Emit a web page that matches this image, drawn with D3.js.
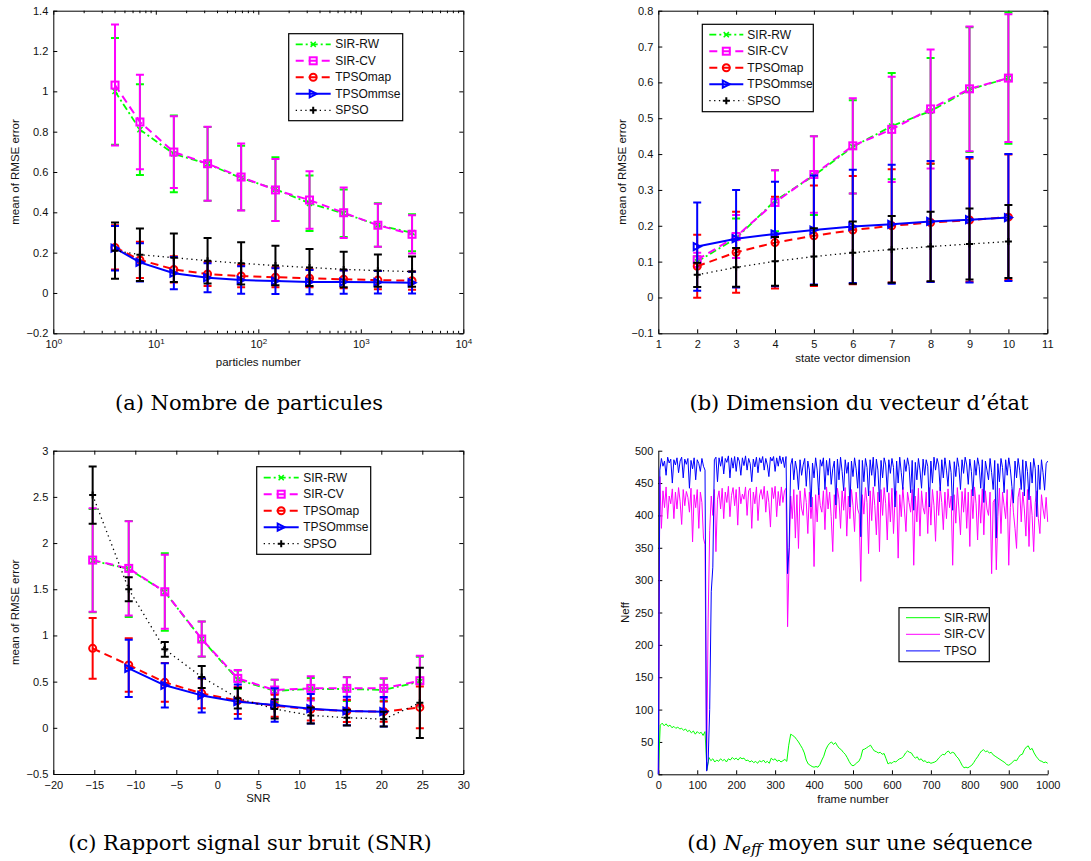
<!DOCTYPE html>
<html><head><meta charset="utf-8">
<script src="https://cdn.jsdelivr.net/npm/d3@7"></script>
<style>
body{margin:0;background:#fff;}
svg{display:block;}
</style></head><body>
<svg id="chart" width="1091" height="861"></svg>
<script>
// ---------------- DATA ----------------
const seriesNames = ["SIR-RW", "SIR-CV", "TPSOmap", "TPSOmmse", "SPSO"];

// (a) particles number
const aParticles = [4, 7, 15, 32, 68, 147, 316, 681, 1468, 3162];
const aSirRW = [1.00, 0.81, 0.69, 0.64, 0.57, 0.515, 0.445, 0.395, 0.337, 0.299];
const aSirRWErr = [0.265, 0.225, 0.19, 0.183, 0.16, 0.158, 0.138, 0.118, 0.108, 0.092];
const aSirCV = [1.031, 0.848, 0.699, 0.641, 0.575, 0.511, 0.461, 0.398, 0.336, 0.291];
const aSirCVErr = [0.30, 0.234, 0.178, 0.184, 0.166, 0.154, 0.143, 0.125, 0.107, 0.095];
const aTpsoMap = [0.226, 0.164, 0.117, 0.094, 0.084, 0.078, 0.073, 0.068, 0.064, 0.061];
const aTpsoMapErr = [0.11, 0.09, 0.065, 0.06, 0.055, 0.05, 0.045, 0.045, 0.045, 0.045];
const aTpsoMmse = [0.222, 0.152, 0.098, 0.076, 0.064, 0.059, 0.054, 0.054, 0.053, 0.051];
const aTpsoMmseErr = [0.11, 0.095, 0.08, 0.072, 0.068, 0.064, 0.06, 0.058, 0.056, 0.054];
const aSpso = [0.21, 0.19, 0.175, 0.16, 0.147, 0.136, 0.126, 0.117, 0.111, 0.106];
const aSpsoErr = [0.14, 0.13, 0.12, 0.113, 0.105, 0.098, 0.092, 0.088, 0.08, 0.075];
const aYTicks = [-0.2, 0, 0.2, 0.4, 0.6, 0.8, 1, 1.2, 1.4];
const aXTicks = [1, 10, 100, 1000, 10000];

// (b) state vector dimension
const bDim = [2, 3, 4, 5, 6, 7, 8, 9, 10];
const bSirRW = [0.10, 0.165, 0.27, 0.34, 0.42, 0.478, 0.52, 0.58, 0.612];
const bSirRWErr = [0.015, 0.055, 0.085, 0.11, 0.13, 0.148, 0.148, 0.174, 0.183];
const bSirCV = [0.105, 0.17, 0.265, 0.343, 0.423, 0.469, 0.526, 0.582, 0.612];
const bSirCVErr = [0.02, 0.06, 0.09, 0.107, 0.133, 0.147, 0.166, 0.174, 0.178];
const bTpsoMap = [0.087, 0.126, 0.153, 0.172, 0.188, 0.2, 0.209, 0.216, 0.224];
const bTpsoMapErr = [0.088, 0.113, 0.128, 0.14, 0.151, 0.158, 0.165, 0.172, 0.175];
const bTpsoMmse = [0.142, 0.164, 0.177, 0.188, 0.198, 0.204, 0.212, 0.217, 0.223];
const bTpsoMmseErr = [0.123, 0.136, 0.146, 0.152, 0.158, 0.166, 0.169, 0.175, 0.177];
const bSpso = [0.063, 0.084, 0.101, 0.114, 0.125, 0.134, 0.142, 0.149, 0.156];
const bSpsoErr = [0.034, 0.054, 0.068, 0.079, 0.087, 0.093, 0.097, 0.099, 0.102];
const bYTicks = [-0.1, 0, 0.1, 0.2, 0.3, 0.4, 0.5, 0.6, 0.7, 0.8];
const bXTicks = [1, 2, 3, 4, 5, 6, 7, 8, 9, 10, 11];

// (c) SNR
const cSnr = [-15.2, -10.8, -6.4, -1.9, 2.5, 7, 11.4, 15.8, 20.3, 24.7];
const cSirRW = [1.81, 1.72, 1.47, 0.96, 0.52, 0.40, 0.42, 0.42, 0.41, 0.50];
const cSirRWErr = [0.56, 0.52, 0.42, 0.19, 0.10, 0.12, 0.12, 0.13, 0.12, 0.27];
const cSirCV = [1.816, 1.726, 1.473, 0.961, 0.535, 0.409, 0.427, 0.427, 0.427, 0.51];
const cSirCVErr = [0.56, 0.51, 0.40, 0.19, 0.09, 0.11, 0.13, 0.12, 0.11, 0.27];
const cTpsoMap = [0.86, 0.68, 0.492, 0.373, 0.294, 0.239, 0.2, 0.182, 0.175, 0.221];
const cTpsoMapErr = [0.33, 0.29, 0.21, 0.16, 0.145, 0.12, 0.12, 0.12, 0.11, 0.225];
const cTpsoMmse = [null, 0.643, 0.46, 0.351, 0.283, 0.247, 0.207, 0.182, 0.174, null];
const cTpsoMmseErr = [null, 0.31, 0.24, 0.185, 0.185, 0.18, 0.16, 0.155, 0.16, null];
const cSpso = [2.52, 1.5, 0.85, 0.55, 0.32, 0.204, 0.134, 0.11, 0.094, 0.27];
const cSpsoErr = [0.31, 0.13, 0.08, 0.12, 0.11, 0.104, 0.087, 0.085, 0.081, 0.38];
const cYTicks = [-0.5, 0, 0.5, 1, 1.5, 2, 2.5, 3];
const cXTicks = [-20, -15, -10, -5, 0, 5, 10, 15, 20, 25, 30];

// (d) Neff over a sequence
const dSirRWStep = 5;   // one value every 5 frames
const dSirRW = [0,76,79,75,78,74,76,72,74,71,73,70,71,68,70,66,68,64,67,62,66,63,65,60,66,6,26,21,24,19,22,20,24,21,23,19,24,22,26,23,25,22,26,24,25,21,22,19,21,18,20,17,21,19,22,18,20,17,25,22,24,20,22,19,21,23,20,45,62,60,58,54,50,45,40,33,22,16,14,12,11,12,11,15,22,28,38,44,48,50,46,49,44,40,38,34,31,26,20,15,13,15,18,20,26,38,39,41,43,45,40,36,35,33,34,31,32,24,16,18,17,20,19,22,24,25,28,33,36,34,33,28,25,27,22,24,20,21,18,19,17,18,19,21,25,28,31,30,34,36,32,34,33,28,25,20,14,10,11,10,12,14,18,23,27,32,36,38,35,36,33,34,30,28,26,24,22,20,18,15,14,16,19,22,21,26,30,31,38,42,44,38,40,33,28,24,21,20,18,19,17];
const dStep = 4;        // one value every 4 frames
const dSirCV = [
  0,460,380,438,412,444,395,430,418,441,
  395,436,410,443,422,386,440,415,437,428,
  405,442,359,432,412,440,380,436,420,365,
  355,5,240,377,430,400,440,344,425,438,
  410,442,395,436,420,445,398,431,443,415,
  440,385,444,418,433,425,444,400,438,442,
  380,436,418,444,392,430,440,425,445,405,
  438,420,382,443,426,445,398,437,415,444,
  420,438,442,228,334,430,395,440,365,432,
  349,438,410,400,442,420,372,436,395,428,
  321,432,390,442,415,405,438,378,444,410,
  436,398,344,432,395,442,425,380,438,408,
  443,368,430,395,440,415,375,436,410,402,
  298,432,402,443,420,341,438,392,444,415,
  370,436,344,440,400,443,418,362,435,390,
  442,372,425,438,334,432,398,444,410,375,
  436,420,405,440,323,430,390,442,368,438,
  412,402,436,372,443,385,440,415,360,438,
  400,444,420,378,436,395,441,412,430,323,
  432,388,443,410,370,437,405,442,380,436,
  352,440,395,444,418,362,432,388,441,370,
  438,410,400,436,310,420,425,316,398,442,
  372,436,415,395,440,323,412,440,405,380,
  349,428,442,390,436,410,368,440,352,430,
  400,344,420,438,395,372,432,410,395,428,
  390];
const dTpso = [
  0,470,488,476,484,462,490,481,487,450,
  486,478,489,466,484,490,458,487,479,488,
  442,485,472,489,455,486,480,468,488,476,
  470,5,20,100,282,320,486,490,452,489,
  476,491,464,488,482,492,458,489,473,491,
  468,490,484,462,489,477,492,470,488,480,
  452,487,475,490,466,489,481,491,470,488,
  478,460,490,484,491,468,489,476,492,480,
  490,474,491,310,350,478,488,455,484,470,
  440,486,462,478,488,445,484,470,413,481,
  458,489,470,432,486,476,489,440,485,462,
  488,448,472,484,416,487,455,490,468,438,
  486,465,482,413,484,460,489,472,442,486,
  367,485,452,488,474,430,486,462,490,445,
  487,470,421,485,458,489,478,436,486,465,
  488,474,413,484,450,490,466,440,486,468,
  489,476,435,485,408,482,455,488,470,442,
  487,462,486,476,413,484,450,490,470,488,
  478,438,486,458,489,470,445,485,466,408,
  483,460,489,474,440,486,465,490,478,448,
  487,468,430,485,462,489,476,442,486,420,
  484,470,455,488,466,440,485,365,480,452,
  488,474,435,486,462,489,472,445,419,484,
  458,488,470,440,486,430,484,468,424,482,
  450,488,472,398,478,440,486,466,439,480,
  484];
const dYTicks = [0, 50, 100, 150, 200, 250, 300, 350, 400, 450, 500];
const dXTicks = [0, 100, 200, 300, 400, 500, 600, 700, 800, 900, 1000];

// ---------------- RENDER ----------------
const SANS = '"Liberation Sans", Arial, Helvetica, sans-serif';
const SERIF = '"DejaVu Serif", "Liberation Serif", serif';
const svg = d3.select("#chart");
svg.append("rect").attr("width", 1091).attr("height", 861).attr("fill", "#fff");

const styleOf = {
  "SIR-RW":   {color: "#00ff00", dash: "7,3,2,3", width: 1.8, marker: "x"},
  "SIR-CV":   {color: "#ff00ff", dash: "8,5", width: 2, marker: "square"},
  "TPSOmap":  {color: "#ff0000", dash: "8,5", width: 2, marker: "circle"},
  "TPSOmmse": {color: "#0000ff", dash: null, width: 2, marker: "tri"},
  "SPSO":     {color: "#000000", dash: "1.3,3.5", width: 1.3, marker: "plus"}
};

function drawMarker(g, type, cx, cy, color) {
  const s = 3.5;
  if (type === "x") {
    const k = 2.6;
    g.append("path").attr("d", `M${cx-k},${cy-k}L${cx+k},${cy+k}M${cx-k},${cy+k}L${cx+k},${cy-k}`)
      .attr("stroke", color).attr("stroke-width", 1.5).attr("fill", "none");
  } else if (type === "square") {
    g.append("rect").attr("x", cx - s).attr("y", cy - s).attr("width", 2 * s).attr("height", 2 * s)
      .attr("stroke", color).attr("stroke-width", 2).attr("fill", "none");
  } else if (type === "circle") {
    g.append("circle").attr("cx", cx).attr("cy", cy).attr("r", s)
      .attr("stroke", color).attr("stroke-width", 2).attr("fill", "none");
  } else if (type === "tri") {
    g.append("path").attr("d", `M${cx-s},${cy-s}L${cx+s},${cy}L${cx-s},${cy+s}Z`)
      .attr("stroke", color).attr("stroke-width", 2).attr("fill", "none");
  } else if (type === "plus") {
    g.append("path").attr("d", `M${cx-s},${cy}L${cx+s},${cy}M${cx},${cy-s}L${cx},${cy+s}`)
      .attr("stroke", color).attr("stroke-width", 2).attr("fill", "none");
  }
}

function styleAxis(sel) {
  sel.select(".domain").attr("stroke", "#000").attr("stroke-width", 1);
  sel.selectAll(".tick line").attr("stroke", "#000").attr("stroke-width", 1);
  sel.selectAll(".tick text").attr("font-family", SANS).attr("font-size", "11px").attr("fill", "#111");
}

const minusFmt = d => (d < 0 ? "\u2212" + String(Math.abs(d)) : String(d));

function drawAxes(g, x, y, box, o) {
  const [x0, y0, x1, y1] = box;
  const bottom = d3.axisBottom(x).tickValues(o.xTicks).tickSize(-4).tickSizeOuter(0).tickPadding(7).tickFormat(o.xFmt || minusFmt);
  const left = d3.axisLeft(y).tickValues(o.yTicks).tickSize(-4).tickSizeOuter(0).tickPadding(5).tickFormat(minusFmt);
  const gb = g.append("g").attr("transform", `translate(0,${y1})`).call(bottom); styleAxis(gb);
  const gl = g.append("g").attr("transform", `translate(${x0},0)`).call(left); styleAxis(gl);
  if (o.frame) {
    const gt = g.append("g").attr("transform", `translate(0,${y0})`)
      .call(d3.axisTop(x).tickValues(o.xTicks).tickSize(-4).tickSizeOuter(0).tickFormat(""));
    styleAxis(gt);
    const gr = g.append("g").attr("transform", `translate(${x1},0)`)
      .call(d3.axisRight(y).tickValues(o.yTicks).tickSize(-4).tickSizeOuter(0).tickFormat(""));
    styleAxis(gr);
  }
  if (o.minor) {
    o.minor.forEach(v => {
      g.append("line").attr("x1", x(v)).attr("x2", x(v)).attr("y1", y1).attr("y2", y1 - 2.5).attr("stroke", "#000");
      g.append("line").attr("x1", x(v)).attr("x2", x(v)).attr("y1", y0).attr("y2", y0 + 2.5).attr("stroke", "#000");
    });
  }
  return gb;
}

function axisLabels(g, box, xlab, xlabY, ylab, ylabX) {
  const [x0, y0, x1, y1] = box;
  g.append("text").attr("x", (x0 + x1) / 2).attr("y", xlabY).attr("text-anchor", "middle")
    .attr("dominant-baseline", "central").attr("font-family", SANS).attr("font-size", "11.5px").attr("fill", "#111").text(xlab);
  g.append("text").attr("transform", `translate(${ylabX},${(y0 + y1) / 2}) rotate(-90)`).attr("text-anchor", "middle")
    .attr("dominant-baseline", "central").attr("font-family", SANS).attr("font-size", "11.5px").attr("fill", "#111").text(ylab);
}

function drawLegend(g, lg, names, simple) {
  g.append("rect").attr("x", lg.x).attr("y", lg.y).attr("width", lg.w).attr("height", lg.h)
    .attr("fill", "#fff").attr("stroke", "#000").attr("stroke-width", 1.2);
  names.forEach((n, i) => {
    const st = simple ? simple[i] : styleOf[n];
    const ry = lg.y + lg.first + i * lg.step;
    g.append("line").attr("x1", lg.x + lg.lx0).attr("x2", lg.x + lg.lx1).attr("y1", ry).attr("y2", ry)
      .attr("stroke", st.color).attr("stroke-width", st.width)
      .attr("stroke-dasharray", st.dash || null);
    if (!simple) drawMarker(g, st.marker, lg.x + (lg.lx0 + lg.lx1) / 2, ry, st.color);
    g.append("text").attr("x", lg.x + lg.tx).attr("y", ry).attr("dominant-baseline", "central")
      .attr("font-family", SANS).attr("font-size", "12px").attr("fill", "#111").text(n);
  });
}

function errorPanel(cfg) {
  const g = svg.append("g");
  const [x0, y0, x1, y1] = cfg.box;
  const x = cfg.xScale.range([x0, x1]);
  const y = d3.scaleLinear().domain(cfg.yDomain).range([y1, y0]);
  const gb = drawAxes(g, x, y, cfg.box, Object.assign({frame: true}, cfg));
  if (cfg.logLabels) {
    gb.selectAll(".tick text").text(null).each(function (d) {
      const t = d3.select(this);
      t.append("tspan").text("10");
      t.append("tspan").attr("dy", "-0.55em").attr("font-size", "8px").text(Math.round(Math.log10(d)));
    });
  }
  axisLabels(g, cfg.box, cfg.xlabel, cfg.xlabY, "mean of RMSE error", cfg.ylabX);
  cfg.series.forEach(s => {
    const st = styleOf[s.name];
    const pts = cfg.xs.map((xv, i) => ({x: xv, v: s.values[i], e: s.errors[i]})).filter(p => p.v != null);
    const sg = g.append("g");
    pts.forEach(p => {
      const px = x(p.x), ya = y(p.v - p.e), yb = y(p.v + p.e), c = 4;
      sg.append("path").attr("d", `M${px},${ya}L${px},${yb}M${px - c},${ya}L${px + c},${ya}M${px - c},${yb}L${px + c},${yb}`)
        .attr("stroke", st.color).attr("stroke-width", 2).attr("fill", "none");
    });
    sg.append("path").datum(pts)
      .attr("d", d3.line().x(p => x(p.x)).y(p => y(p.v)))
      .attr("fill", "none").attr("stroke", st.color).attr("stroke-width", st.width)
      .attr("stroke-dasharray", st.dash || null).attr("stroke-linejoin", "round");
    pts.forEach(p => drawMarker(sg, st.marker, x(p.x), y(p.v), st.color));
  });
  drawLegend(g, cfg.legend, seriesNames);
}

// minor ticks for log axis
const aMinor = [];
[1, 10, 100, 1000].forEach(dec => { for (let m = 2; m <= 9; m++) aMinor.push(m * dec); });

errorPanel({
  box: [53.3, 10.7, 463.3, 333.3],
  xScale: d3.scaleLog().domain([1, 10000]),
  yDomain: [-0.2, 1.4], xTicks: aXTicks, yTicks: aYTicks,
  minor: aMinor, logLabels: true, xFmt: d => String(d),
  xs: aParticles,
  series: [
    {name: "SIR-RW", values: aSirRW, errors: aSirRWErr},
    {name: "SIR-CV", values: aSirCV, errors: aSirCVErr},
    {name: "TPSOmap", values: aTpsoMap, errors: aTpsoMapErr},
    {name: "TPSOmmse", values: aTpsoMmse, errors: aTpsoMmseErr},
    {name: "SPSO", values: aSpso, errors: aSpsoErr}
  ],
  xlabel: "particles number", xlabY: 361.5, ylabX: 15,
  legend: {x: 288.7, y: 33.7, w: 114, h: 87, first: 10.6, step: 16.5, lx0: 7, lx1: 42, tx: 46.5}
});

errorPanel({
  xScale: d3.scaleLinear().domain([1, 11]),
  yDomain: [-0.1, 0.8], xTicks: bXTicks, yTicks: bYTicks, box: [658.3, 10.7, 1047.3, 333.3],
  xs: bDim,
  series: [
    {name: "SIR-RW", values: bSirRW, errors: bSirRWErr},
    {name: "SIR-CV", values: bSirCV, errors: bSirCVErr},
    {name: "TPSOmap", values: bTpsoMap, errors: bTpsoMapErr},
    {name: "TPSOmmse", values: bTpsoMmse, errors: bTpsoMmseErr},
    {name: "SPSO", values: bSpso, errors: bSpsoErr}
  ],
  xlabel: "state vector dimension", xlabY: 358.3, ylabX: 621.7,
  legend: {x: 702.3, y: 24.3, w: 111, h: 87.4, first: 10.4, step: 16.5, lx0: 7, lx1: 41, tx: 45}
});

errorPanel({
  xScale: d3.scaleLinear().domain([-20, 30]),
  yDomain: [-0.5, 3], xTicks: cXTicks, yTicks: cYTicks, box: [53.3, 450.7, 463.3, 774],
  xs: cSnr,
  series: [
    {name: "SIR-RW", values: cSirRW, errors: cSirRWErr},
    {name: "SIR-CV", values: cSirCV, errors: cSirCVErr},
    {name: "TPSOmap", values: cTpsoMap, errors: cTpsoMapErr},
    {name: "TPSOmmse", values: cTpsoMmse, errors: cTpsoMmseErr},
    {name: "SPSO", values: cSpso, errors: cSpsoErr}
  ],
  xlabel: "SNR", xlabY: 798, ylabX: 15,
  legend: {x: 256.7, y: 466.7, w: 114, h: 87.6, first: 11, step: 16.5, lx0: 7, lx1: 42, tx: 46.5}
});

// ---- panel (d)
(function () {
  const g = svg.append("g");
  const box = [658.3, 450.7, 1047.7, 774.3];
  const [x0, y0, x1, y1] = box;
  const x = d3.scaleLinear().domain([0, 1000]).range([x0, x1]);
  const y = d3.scaleLinear().domain([0, 500]).range([y1, y0]);
  drawAxes(g, x, y, box, {xTicks: dXTicks, yTicks: dYTicks, frame: false});
  axisLabels(g, box, "frame number", 799, "Neff", 625);
  const lines = [
    {name: "SIR-RW", data: dSirRW, step: dSirRWStep, color: "#00ff00"},
    {name: "SIR-CV", data: dSirCV, step: dStep, color: "#ff00ff"},
    {name: "TPSO", data: dTpso, step: dStep, color: "#0000ff"}
  ];
  lines.forEach(l => {
    const line = d3.line().x((v, i) => x(i * l.step)).y(v => y(v));
    g.append("path").datum(l.data).attr("d", line).attr("fill", "none")
      .attr("stroke", l.color).attr("stroke-width", 1).attr("stroke-linejoin", "round");
  });
  drawLegend(g, {x: 899, y: 607.7, w: 90.3, h: 54, first: 10, step: 16.6, lx0: 7, lx1: 41, tx: 45},
    lines.map(l => l.name), lines.map(l => ({color: l.color, width: 1, dash: null})));
})();

// ---- captions
function caption(cx, cy, parts) {
  const t = svg.append("text").attr("x", cx).attr("y", cy).attr("text-anchor", "middle")
    .attr("font-family", SERIF).attr("font-size", "21px").attr("fill", "#000");
  parts.forEach(p => {
    const s = t.append("tspan").text(p.t);
    if (p.italic) s.attr("font-style", "italic");
    if (p.size) s.attr("font-size", p.size);
    if (p.dy) s.attr("dy", p.dy);
  });
}
caption(249, 410, [{t: "(a) Nombre de particules"}]);
caption(859, 410, [{t: "(b) Dimension du vecteur d\u2019\u00e9tat"}]);
caption(250, 850, [{t: "(c) Rapport signal sur bruit (SNR)"}]);
caption(860, 850, [{t: "(d) "}, {t: "N", italic: true}, {t: "eff", italic: true, size: "15px", dy: "4"}, {t: " moyen sur une s\u00e9quence", dy: "-4"}]);
</script>
</body></html>
